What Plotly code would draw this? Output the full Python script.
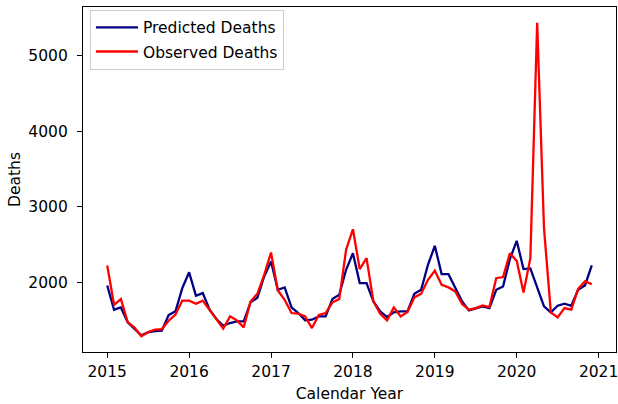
import plotly.graph_objects as go

years = [2015, 2016, 2017, 2018, 2019, 2020]
tick_years = [2015, 2016, 2017, 2018, 2019, 2020, 2021]
y_ticks = [2000, 3000, 4000, 5000]

predicted = [
    1965, 1645, 1675, 1478, 1390, 1307, 1346, 1364, 1368, 1575, 1623, 1930,
    2138, 1829, 1864, 1645, 1522, 1434, 1469, 1491, 1491, 1741, 1803, 2083,
    2281, 1908, 1939, 1675, 1601, 1504, 1513, 1557, 1557, 1785, 1842, 2171,
    2390, 1996, 1996, 1754, 1623, 1548, 1610, 1623, 1623, 1855, 1908, 2237,
    2487, 2114, 2114, 1930, 1754, 1636, 1667, 1689, 1667, 1908, 1952, 2311,
    2553, 2180, 2189, 1952, 1689, 1610, 1697, 1724, 1697, 1908, 1965, 2228,
]
observed = [
    2228, 1710, 1785, 1482, 1408, 1294, 1351, 1382, 1390, 1500, 1580, 1765,
    1765, 1724, 1765, 1636, 1513, 1395, 1557, 1504, 1412, 1754, 1855, 2105,
    2399, 1899, 1776, 1601, 1592, 1557, 1403, 1575, 1601, 1741, 1785, 2434,
    2706, 2180, 2325, 1754, 1592, 1504, 1675, 1557, 1614, 1807, 1855, 2039,
    2158, 1974, 1939, 1886, 1719, 1645, 1667, 1702, 1680, 2061, 2075, 2390,
    2289, 1873, 2325, 5430, 2720, 1610, 1544, 1667, 1645, 1921, 2018, 1982,
]

x = [y + m / 12 for y in years for m in range(12)]

fig = go.Figure()
fig.add_trace(go.Scatter(x=x, y=predicted, mode="lines", name="Predicted Deaths",
                         legendgroup="p", line=dict(color="#000080", width=2.3)))
fig.add_trace(go.Scatter(x=x, y=observed, mode="lines", name="Observed Deaths",
                         legendgroup="o", line=dict(color="#ff0000", width=2.3)))

xmin, xmax = min(x), max(x)
xpad = (xmax - xmin) * 0.05
allv = predicted + observed
ymin, ymax = min(allv), max(allv)
ypad = (ymax - ymin) * 0.05

font = dict(family="DejaVu Sans", size=15.5, color="#000000")
fig.update_layout(
    width=618, height=404,
    margin=dict(l=83, r=2, t=7, b=52, autoexpand=False),
    paper_bgcolor="white", plot_bgcolor="white",
    font=font,
    showlegend=True,
    legend=dict(x=0.013, y=0.992, xanchor="left", yanchor="top",
                bordercolor="#cccccc", borderwidth=1, bgcolor="rgba(255,255,255,0.8)",
                font=font, traceorder="grouped", tracegroupgap=1, itemwidth=42),
    xaxis=dict(range=[xmin - xpad, xmax + xpad], tickvals=tick_years,
               ticktext=[str(t) for t in tick_years], automargin=False,
               ticklabeloverflow="allow",
               showgrid=False, zeroline=False, showline=True, linecolor="black",
               linewidth=1.3, mirror=True, ticks="outside", ticklen=5, tickwidth=1.3,
               tickcolor="black", title=dict(text="Calendar Year", standoff=8, font=font)),
    yaxis=dict(range=[ymin - ypad, ymax + ypad], tickvals=y_ticks, automargin=False,
               ticklabelstandoff=6,
               showgrid=False, zeroline=False, showline=True, linecolor="black",
               linewidth=1.3, mirror=True, ticks="outside", ticklen=5, tickwidth=1.3,
               tickcolor="black", title=dict(text="Deaths", standoff=3, font=font)),
)

fig.write_html(
    "out.html",
    config={"displayModeBar": False},
    post_script="document.body.style.margin='0px';document.body.style.overflow='hidden';",
)
